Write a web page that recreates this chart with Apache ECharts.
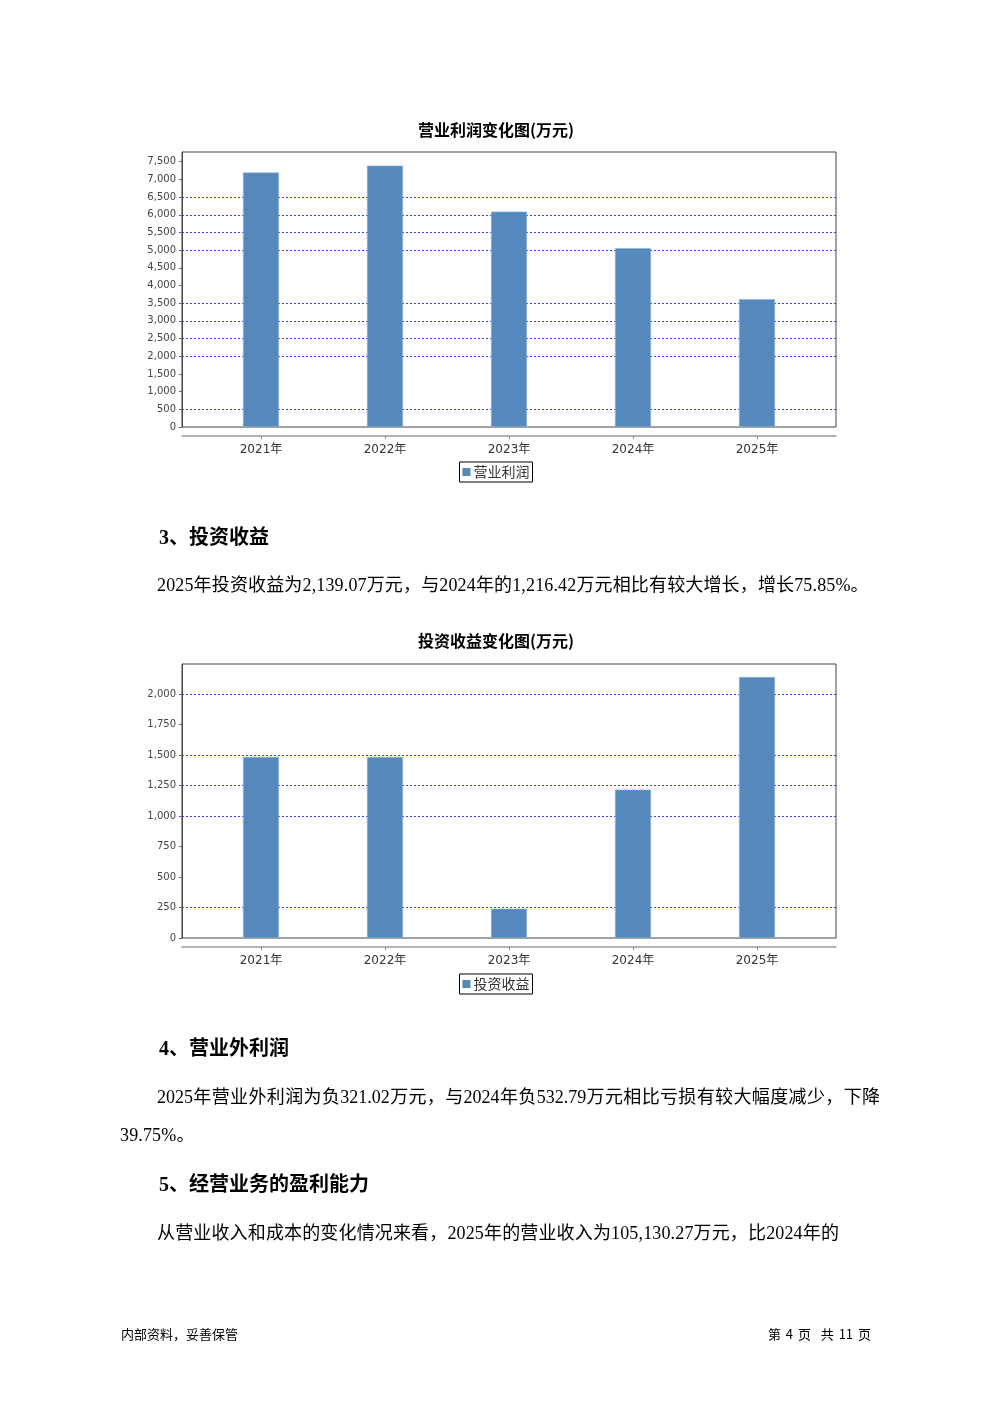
<!DOCTYPE html>
<html>
<head>
<meta charset="utf-8">
<script src="https://cdn.jsdelivr.net/npm/echarts@6/dist/echarts.min.js"></script>
<style>
  html, body { margin: 0; padding: 0; background: #fff; }
  #page { position: relative; width: 992px; height: 1403px; overflow: hidden; }
  #chart { position: absolute; left: 0; top: 0; width: 992px; height: 1403px; }
  .t { position: absolute; white-space: nowrap; color: #000; font-family: "Liberation Serif", "Noto Sans CJK SC", serif; }
  .h { font-size: 20px; line-height: 20px; font-weight: bold; }
  .p { font-size: 18px; line-height: 18px; letter-spacing: 0.15px; }
  .f { font-size: 13px; line-height: 13px; font-family: "Noto Sans CJK SC", sans-serif; }
</style>
</head>
<body>
<div id="page">
  <div id="chart"></div>
  <div class="t h" style="left:159px; top:527px;">3、投资收益</div>
  <div class="t p" style="left:157px; top:576px;">2025年投资收益为2,139.07万元，与2024年的1,216.42万元相比有较大增长，增长75.85%。</div>
  <div class="t h" style="left:159px; top:1038px;">4、营业外利润</div>
  <div class="t p" style="left:157px; top:1088px; width:723px; text-align:justify; text-align-last:justify; letter-spacing:0;">2025年营业外利润为负321.02万元，与2024年负532.79万元相比亏损有较大幅度减少，下降</div>
  <div class="t p" style="left:120px; top:1126px;">39.75%。</div>
  <div class="t h" style="left:159px; top:1174px;">5、经营业务的盈利能力</div>
  <div class="t p" style="left:157px; top:1224px;">从营业收入和成本的变化情况来看，2025年的营业收入为105,130.27万元，比2024年的</div>
  <div class="t f" style="left:121px; top:1327px;">内部资料，妥善保管</div>
  <div class="t f" style="right:121px; top:1327px; word-spacing:2px;">第 4 页&nbsp;&nbsp;共 11 页</div>
</div>
<script>
// ---- data ----
var years = ['2021年', '2022年', '2023年', '2024年', '2025年'];

var chart1Title = '营业利润变化图(万元)';
var chart1Name = '营业利润';
var chart1Values = [7195, 7390, 6090, 5055, 3610];
var chart1Ticks = [0, 500, 1000, 1500, 2000, 2500, 3000, 3500, 4000, 4500, 5000, 5500, 6000, 6500, 7000, 7500];
var chart1Grid = [500, 2000, 2500, 3000, 3500, 5000, 5500, 6000, 6500];
var chart1Max = 7775;

var chart2Title = '投资收益变化图(万元)';
var chart2Name = '投资收益';
var chart2Values = [1485, 1485, 240, 1216.42, 2139.07];
var chart2Ticks = [0, 250, 500, 750, 1000, 1250, 1500, 1750, 2000];
var chart2Grid = [250, 1000, 1250, 1500, 2000];
var chart2Max = 2246;

var xIndexes = [0, 1, 2, 3, 4];

// ---- chart ----
var el = document.getElementById('chart');
var chart = echarts.init(el, null, { renderer: 'canvas', width: 992, height: 1403 });

var barColor = '#5589bc';
var fmt = function (v) { return String(v).replace(/\B(?=(\d{3})+(?!\d))/g, ','); };

function xAxisDef(gi) {
  return {
    type: 'value', gridIndex: gi, min: -0.637, max: 4.637, position: 'bottom', offset: 9,
    axisLine: { show: true, onZero: false, lineStyle: { color: '#999', width: 1.5 } },
    axisTick: { show: true, customValues: xIndexes, length: 3, lineStyle: { color: '#888' } },
    axisLabel: {
      customValues: xIndexes, margin: 8, color: '#333', fontSize: 12,
      fontFamily: 'DejaVu Sans, Noto Sans CJK SC, sans-serif',
      formatter: function (v) { return years[Math.round(v)]; }
    },
    splitLine: { show: false }
  };
}
function yAxisDef(gi, max, ticks) {
  return {
    type: 'value', gridIndex: gi, min: 0, max: max, position: 'left',
    axisLine: { show: true, onZero: false, lineStyle: { color: '#444' } },
    axisTick: { show: true, customValues: ticks, length: 3, lineStyle: { color: '#666' } },
    axisLabel: {
      customValues: ticks, margin: 6, color: '#444', fontSize: 10,
      fontFamily: 'DejaVu Sans, sans-serif', formatter: fmt
    },
    splitLine: { show: false }
  };
}
function barSeries(name, values, gi, gridVals) {
  return {
    name: name, type: 'bar', xAxisIndex: gi, yAxisIndex: gi, z: 10,
    barWidth: 36,
    itemStyle: { color: barColor, borderColor: '#8fb0d2', borderWidth: 0.6 },
    data: values.map(function (v, i) { return [xIndexes[i], v]; }),
    markLine: {
      silent: true, symbol: 'none', label: { show: false },
      lineStyle: { color: '#3c3cff', type: [2, 2], width: 1 },
      emphasis: { disabled: true },
      data: gridVals.map(function (v) { return { yAxis: v }; })
    }
  };
}

function legendDef(name, top) {
  return {
    data: [name], top: top, left: 'center', icon: 'rect', itemWidth: 8, itemHeight: 8,
    padding: [3, 3], borderColor: '#000', borderWidth: 1, selectedMode: false,
    itemStyle: { borderWidth: 0 },
    textStyle: { fontSize: 14, color: '#333', fontFamily: 'Noto Sans CJK SC, sans-serif', padding: [0, 0, 0, -2] }
  };
}

var titleStyle = { fontSize: 16, fontWeight: 'bold', color: '#000', fontFamily: 'Noto Sans CJK SC, sans-serif' };

var option = {
  animation: false,
  backgroundColor: 'transparent',
  title: [
    { text: chart1Title, left: 'center', top: 117, textStyle: titleStyle },
    { text: chart2Title, left: 'center', top: 628, textStyle: titleStyle }
  ],
  legend: [legendDef(chart1Name, 462), legendDef(chart2Name, 974)],
  grid: [
    { left: 182, top: 152, width: 654, height: 275, show: true, borderColor: '#444', borderWidth: 1, backgroundColor: 'transparent' },
    { left: 182, top: 664, width: 654, height: 274, show: true, borderColor: '#444', borderWidth: 1, backgroundColor: 'transparent' }
  ],
  xAxis: [xAxisDef(0), xAxisDef(1)],
  yAxis: [yAxisDef(0, chart1Max, chart1Ticks), yAxisDef(1, chart2Max, chart2Ticks)],
  series: [
    barSeries(chart1Name, chart1Values, 0, chart1Grid),
    barSeries(chart2Name, chart2Values, 1, chart2Grid)
  ]
};
chart.setOption(option);
</script>
</body>
</html>
